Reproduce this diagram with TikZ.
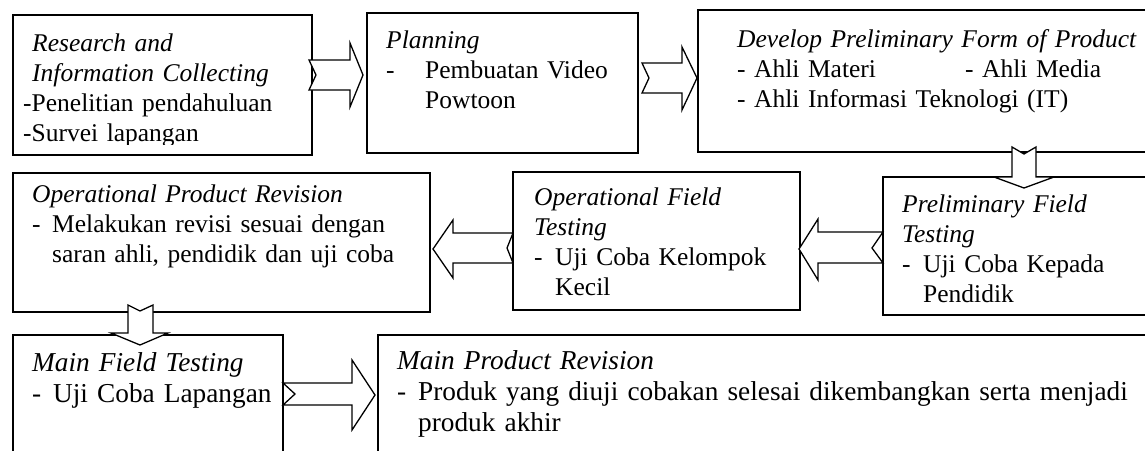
\documentclass[tikz,border=0pt]{standalone}
\usepackage{fontspec}
\setmainfont{Liberation Serif}
\begin{document}
\begin{tikzpicture}[x=1pt,y=-1pt,
  box/.style={draw=black,line width=1.3pt,fill=white},
  txt/.style={inner sep=0pt,anchor=north west,align=left,text width=760pt,
    font=\fontsize{25.5}{30}\selectfont},
  txtb/.style={txt,font=\fontsize{27.3}{31}\selectfont},
  blk/.style={draw=black,fill=white,line width=1.3pt,line join=miter}]
\clip (0,0) rectangle (1145,450);
\fill[white] (0,0) rectangle (1145,450);
% boxes
\draw[box] (13,15) rectangle (312,155) coordinate (b1);
\draw[box] (367,13) rectangle (638,153) coordinate (b2);
\draw[box] (698,10) rectangle (1160,152) coordinate (b3);
\draw[box] (883,177) rectangle (1160,315) coordinate (b4);
\draw[box] (513,172) rectangle (800,310) coordinate (b5);
\draw[box] (13,173) rectangle (430,312) coordinate (b6);
\draw[box] (13,335) rectangle (283,470) coordinate (b7);
\draw[box] (378,335) rectangle (1160,470) coordinate (b8);
% texts
\begin{scope}
\clip (13,15) rectangle (312,144);
\node[txt] (t1) at (23,30) {\strut\hspace*{9pt}{\itshape Research and}\\
\hspace*{9pt}{\itshape Information Collecting}\\
-Penelitian pendahuluan\\
-Survei lapangan};
\end{scope}
\node[txt] (t2) at (386,27) {\strut{\itshape Planning}\\
\makebox[39pt][l]{-}Pembuatan Video\\
\hspace*{39pt}Powtoon};
\node[txt] (t3) at (737,26) {\strut{\itshape Develop Preliminary Form of Product}\\
\makebox[228pt][l]{- Ahli Materi}- Ahli Media\\
- Ahli Informasi Teknologi (IT)};
\node[txt] (t6) at (32,181) {\strut{\itshape Operational Product Revision}\\
\makebox[20pt][l]{-}Melakukan revisi sesuai dengan\\
\hspace*{20pt}saran ahli, pendidik dan uji coba};
\node[txt] (t5) at (534,184) {\strut{\itshape Operational Field}\\
{\itshape Testing}\\
\makebox[21pt][l]{-}Uji Coba Kelompok\\
\hspace*{21pt}Kecil};
\node[txt] (t4) at (902,191) {\strut{\itshape Preliminary Field}\\
{\itshape Testing}\\
\makebox[21pt][l]{-}Uji Coba Kepada\\
\hspace*{21pt}Pendidik};
\node[txtb] (t7) at (32,350) {\strut{\itshape Main Field Testing}\\
\makebox[21pt][l]{-}Uji Coba Lapangan};
\node[txtb] (t8) at (397,348) {\strut{\itshape Main Product Revision}\\
\makebox[21pt][l]{-}Produk yang diuji cobakan selesai dikembangkan serta menjadi\\
\hspace*{21pt}produk akhir};
% block arrows
\draw[blk] (309,60) -- (350,60) -- (350,43) -- (363,75) -- (350,107) -- (350,90) -- (309,90) -- (316,75) -- cycle;
\draw[blk] (642,63) -- (682,63) -- (682,47) -- (697,78) -- (682,110) -- (682,93) -- (642,93) -- (649,78) -- cycle;
\draw[blk] (1012,147) -- (1024,154) -- (1036,147) -- (1036,177) -- (1054,177) -- (1024,188) -- (994,177) -- (1012,177) -- cycle;
\draw[blk] (883,232) -- (818,232) -- (818,219) -- (799,249) -- (818,280) -- (818,263) -- (883,263) -- (872,248) -- cycle;
\draw[blk] (513,233) -- (453,233) -- (453,220) -- (433,249) -- (453,278) -- (453,263) -- (513,263) -- (507,248) -- cycle;
\draw[blk] (128,305) -- (140,311) -- (153,305) -- (153,333) -- (168,333) -- (140,345) -- (111,333) -- (128,333) -- cycle;
\draw[blk] (283,383) -- (352,383) -- (352,360) -- (375,395) -- (352,430) -- (352,405) -- (283,405) -- (295,394) -- cycle;
\end{tikzpicture}
\end{document}
